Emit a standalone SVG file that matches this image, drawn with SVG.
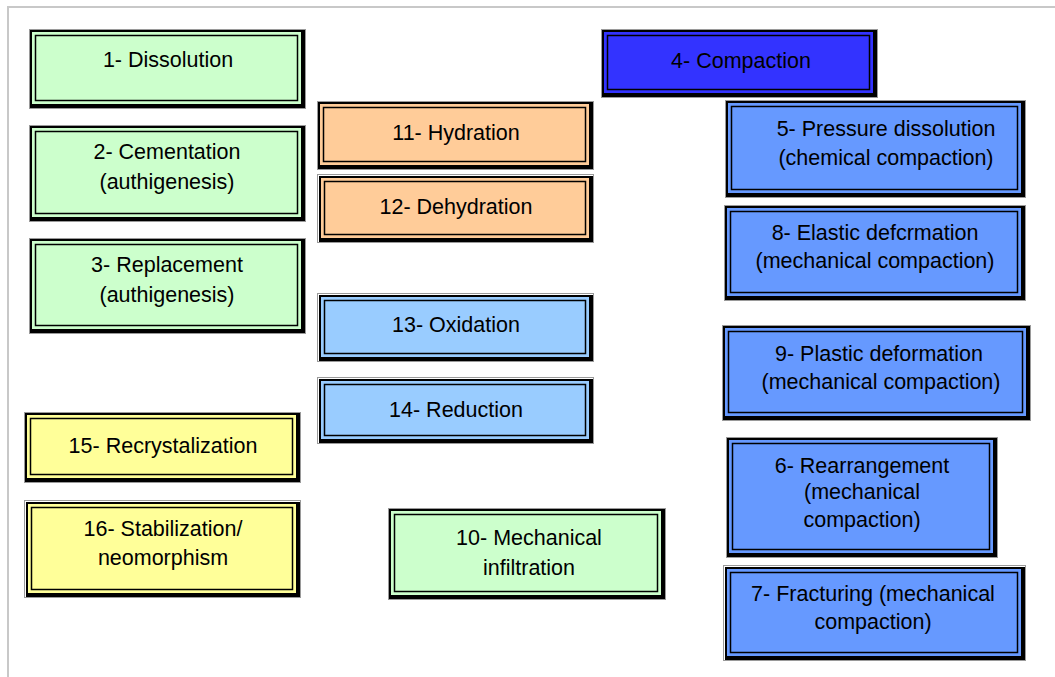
<svg xmlns="http://www.w3.org/2000/svg" width="1055" height="677" viewBox="0 0 1055 677">
<style>
.o{fill:#fff;stroke:#9a9a9a;stroke-width:1}
.k{fill:#000}
.i{stroke:#000;stroke-width:1.5}
.t{font-family:"Liberation Sans",Arial,sans-serif;font-size:21.5px;fill:#000;text-anchor:middle}
.g{fill:#CCFFCC}.or{fill:#FFCC99}.lb{fill:#99CCFF}.y{fill:#FFFF99}.b{fill:#6699FF}.db{fill:#3333FF}
</style>
<rect width="1055" height="677" fill="#fff"/>
<path d="M8 677 V7 H1055" fill="none" stroke="#c8c8c8" stroke-width="2"/>
<g id="connectors"/>
<g id="n1">
<rect class="o" x="29.5" y="29.5" width="276" height="79"/><rect class="k" x="30" y="30" width="275" height="78"/>
<rect class="g" x="32" y="32" width="269" height="72"/><rect class="g i" x="35.5" y="35.5" width="262" height="65"/>
<text class="t" x="168" y="67">1- Dissolution</text></g>
<g id="n2">
<rect class="o" x="29.5" y="125.5" width="276" height="96"/><rect class="k" x="30" y="126" width="275" height="95"/>
<rect class="g" x="32" y="128" width="269" height="89"/><rect class="g i" x="35.5" y="131.5" width="262" height="82"/>
<text class="t" x="167" y="159">2- Cementation</text><text class="t" x="167" y="189">(authigenesis)</text></g>
<g id="n3">
<rect class="o" x="29.5" y="238.5" width="276" height="95"/><rect class="k" x="30" y="239" width="275" height="94"/>
<rect class="g" x="32" y="241" width="269" height="88"/><rect class="g i" x="35.5" y="244.5" width="262" height="81"/>
<text class="t" x="167" y="272">3- Replacement</text><text class="t" x="167" y="302">(authigenesis)</text></g>
<g id="n4">
<rect class="o" x="601.5" y="29.5" width="276" height="68"/><rect class="k" x="602" y="30" width="275" height="67"/>
<rect class="db" x="604" y="32" width="269" height="61"/><rect class="db i" x="607.5" y="35.5" width="262" height="54"/>
<text class="t" x="741" y="68">4- Compaction</text></g>
<g id="n5">
<rect class="o" x="725.5" y="100.5" width="300" height="97"/><rect class="k" x="726" y="101" width="299" height="96"/>
<rect class="b" x="728" y="103" width="293" height="90"/><rect class="b i" x="731.5" y="106.5" width="286" height="83"/>
<text class="t" x="886" y="136">5- Pressure dissolution</text><text class="t" x="886" y="165">(chemical compaction)</text></g>
<g id="n8">
<rect class="o" x="724.5" y="205.5" width="301" height="95"/><rect class="k" x="725" y="206" width="300" height="94"/>
<rect class="b" x="727" y="208" width="294" height="88"/><rect class="b i" x="730.5" y="211.5" width="287" height="81"/>
<text class="t" x="875" y="240">8- Elastic defcrmation</text><text class="t" x="875" y="268">(mechanical compaction)</text></g>
<g id="n9">
<rect class="o" x="722.5" y="325.5" width="308" height="95"/><rect class="k" x="723" y="326" width="307" height="94"/>
<rect class="b" x="725" y="328" width="301" height="88"/><rect class="b i" x="728.5" y="331.5" width="294" height="81"/>
<text class="t" x="879" y="361">9- Plastic deformation</text><text class="t" x="881" y="389">(mechanical compaction)</text></g>
<g id="n6">
<rect class="o" x="726.5" y="437.5" width="271" height="120"/><rect class="k" x="727" y="438" width="270" height="119"/>
<rect class="b" x="729" y="440" width="264" height="113"/><rect class="b i" x="732.5" y="443.5" width="257" height="106"/>
<text class="t" x="862" y="473">6- Rearrangement</text><text class="t" x="862" y="499">(mechanical</text><text class="t" x="862" y="527">compaction)</text></g>
<g id="n7">
<rect class="o" x="723.5" y="565.5" width="302" height="95"/><rect class="k" x="725" y="567" width="300" height="93"/>
<rect class="b" x="727" y="569" width="294" height="87"/><rect class="b i" x="730.5" y="572.5" width="287" height="80"/>
<text class="t" x="873" y="601">7- Fracturing (mechanical</text><text class="t" x="873" y="629">compaction)</text></g>
<g id="n11">
<rect class="o" x="317.5" y="101.5" width="276" height="68"/><rect class="k" x="318" y="102" width="275" height="67"/>
<rect class="or" x="320" y="104" width="269" height="61"/><rect class="or i" x="323.5" y="107.5" width="262" height="54"/>
<text class="t" x="456" y="140">11- Hydration</text></g>
<g id="n12">
<rect class="o" x="317.5" y="174.5" width="276" height="68"/><rect class="k" x="319" y="176" width="274" height="66"/>
<rect class="or" x="321" y="178" width="268" height="60"/><rect class="or i" x="324.5" y="181.5" width="261" height="53"/>
<text class="t" x="456" y="214">12- Dehydration</text></g>
<g id="n13">
<rect class="o" x="317.5" y="293.5" width="276" height="68"/><rect class="k" x="319" y="295" width="274" height="66"/>
<rect class="lb" x="321" y="297" width="268" height="60"/><rect class="lb i" x="324.5" y="300.5" width="261" height="53"/>
<text class="t" x="456" y="332">13- Oxidation</text></g>
<g id="n14">
<rect class="o" x="317.5" y="377.5" width="276" height="66"/><rect class="k" x="319" y="379" width="274" height="64"/>
<rect class="lb" x="321" y="381" width="268" height="58"/><rect class="lb i" x="324.5" y="384.5" width="261" height="51"/>
<text class="t" x="456" y="417">14- Reduction</text></g>
<g id="n15">
<rect class="o" x="24.5" y="412.5" width="276" height="70"/><rect class="k" x="25" y="413" width="275" height="69"/>
<rect class="y" x="27" y="415" width="269" height="63"/><rect class="y i" x="30.5" y="418.5" width="262" height="56"/>
<text class="t" x="163" y="453">15- Recrystalization</text></g>
<g id="n16">
<rect class="o" x="24.5" y="500.5" width="276" height="97"/><rect class="k" x="26" y="502" width="274" height="95"/>
<rect class="y" x="28" y="504" width="268" height="89"/><rect class="y i" x="31.5" y="507.5" width="261" height="82"/>
<text class="t" x="163" y="536">16- Stabilization/</text><text class="t" x="163" y="565">neomorphism</text></g>
<g id="n10">
<rect class="o" x="388.5" y="508.5" width="277" height="91"/><rect class="k" x="389" y="509" width="276" height="90"/>
<rect class="g" x="391" y="511" width="270" height="84"/><rect class="g i" x="394.5" y="514.5" width="263" height="77"/>
<text class="t" x="529" y="545">10- Mechanical</text><text class="t" x="529" y="575">infiltration</text></g>
</svg>
